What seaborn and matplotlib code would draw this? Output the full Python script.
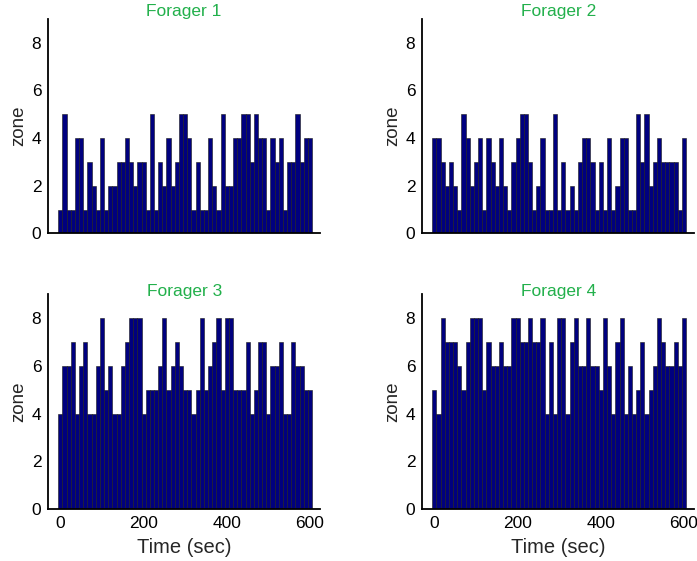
import numpy as np
import pandas as pd
import matplotlib
matplotlib.use("Agg")
import matplotlib.pyplot as plt
import seaborn as sns

# zone occupied by each forager, one value per 10 s bin (0..600 s)
time_sec = list(range(0, 610, 10))
forager1 = [1,5,1,1,4,4,1,3,2,1, 4,1,2,2,3,3,4,3,2,3, 3,1,5,1,3,2,4,2,3,5,
            5,4,1,3,1,1,4,2,1,5, 2,2,4,4,5,5,3,5,4,4, 1,4,3,4,1,3,3,5,3,4, 4]
forager2 = [4,4,3,2,3,2,1,5,4,2, 3,4,1,4,3,2,4,2,1,3, 4,5,5,3,1,2,4,1,1,5,
            1,3,1,2,1,3,4,4,3,1, 3,1,4,1,2,4,4,1,1,5, 3,5,2,3,4,3,3,3,3,1, 4]
forager3 = [4,6,6,7,4,6,7,4,4,6, 8,5,6,4,4,6,7,8,8,8, 4,5,5,5,6,8,5,6,7,6,
            5,5,4,5,8,5,6,7,8,5, 8,8,5,5,5,7,4,5,7,7, 4,6,6,7,4,4,7,6,6,5, 5]
forager4 = [5,4,8,7,7,7,6,5,7,8, 8,8,5,7,6,6,7,6,6,8, 8,7,7,8,7,7,8,4,7,4,
            8,8,4,7,8,6,6,8,6,6, 5,8,6,4,7,8,4,6,4,5, 7,4,5,6,8,7,6,6,7,6, 8]

titles = ["Forager 1", "Forager 2", "Forager 3", "Forager 4"]
series = [forager1, forager2, forager3, forager4]

sns.set_theme(style="white")
plt.rcParams["font.family"] = ["Liberation Sans", "DejaVu Sans"]

BAR_COLOR = "#00007f"
TITLE_COLOR = "#22b04b"

fig = plt.figure(figsize=(6.97, 5.61), dpi=100)
# axes boxes in figure fractions (left, bottom, width, height)
boxes = [
    (0.0693, 0.5841, 0.3898, 0.3820),
    (0.6059, 0.5841, 0.3898, 0.3820),
    (0.0693, 0.0927, 0.3898, 0.3827),
    (0.6059, 0.0927, 0.3898, 0.3827),
]

for i, (box, vals, title) in enumerate(zip(boxes, series, titles)):
    ax = fig.add_axes(box)
    df = pd.DataFrame({"time": time_sec, "zone": vals})
    sns.barplot(data=df, x="time", y="zone", native_scale=True, width=1,
                color=BAR_COLOR, saturation=1, edgecolor="#1a1a1a",
                linewidth=0.4, errorbar=None, ax=ax)
    ax.set_xlim(-29, 624)
    ax.set_ylim(0, 9)
    ax.set_yticks([0, 2, 4, 6, 8])
    ax.set_xticks([0, 200, 400, 600])
    sns.despine(ax=ax)
    for s in ["left", "bottom"]:
        ax.spines[s].set_linewidth(1.3)
        ax.spines[s].set_color("black")
    ax.tick_params(direction="in", length=3, width=0.8, labelsize=12.5,
                   colors="black", pad=5)
    ax.set_ylabel("zone", fontsize=13.5, labelpad=3)
    ax.set_title(title, color=TITLE_COLOR, fontsize=12.5, pad=-1.5)
    if i < 2:
        ax.set_xticklabels([])
        ax.set_xlabel("")
    else:
        ax.set_xlabel("Time (sec)", fontsize=14.5, labelpad=5)

fig.savefig("out.png", dpi=100)
